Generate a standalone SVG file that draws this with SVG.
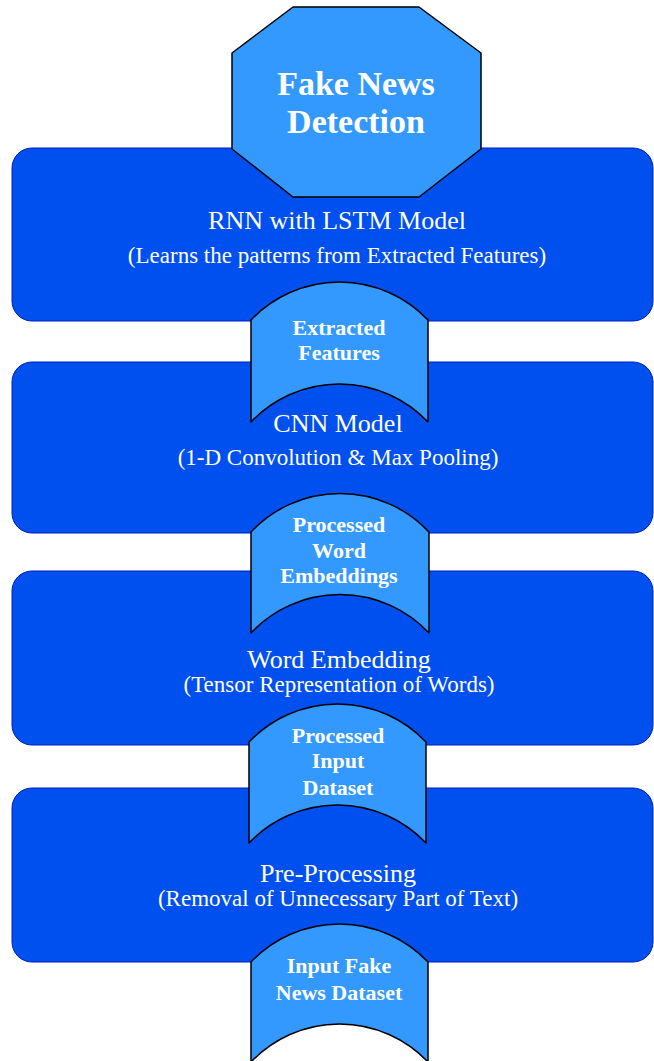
<svg xmlns="http://www.w3.org/2000/svg" width="654" height="1061" viewBox="0 0 654 1061">
  <style>
    .stage { fill: #0050EF; stroke: #001DBC; stroke-width: 1; }
    .flow { fill: #3399FF; stroke: #000000; stroke-width: 1.5; stroke-linejoin: round; }
    .title { font-family: "Liberation Serif", "Times New Roman", serif; font-size: 26px; fill: #FFFFFF; text-anchor: middle; }
    .sub { font-family: "Liberation Serif", "Times New Roman", serif; font-size: 23px; fill: #FFFFFF; text-anchor: middle; }
    .tag { font-family: "Liberation Serif", "Times New Roman", serif; font-size: 22px; font-weight: bold; fill: #FFFFFF; text-anchor: middle; }
    .head { font-family: "Liberation Serif", "Times New Roman", serif; font-size: 34px; font-weight: bold; fill: #FFFFFF; text-anchor: middle; }
  </style>
  <rect width="654" height="1061" fill="#FFFFFF"/>

  <!-- processing stages -->
  <g id="rnn-lstm">
    <rect class="stage" x="12" y="148" width="641" height="173" rx="20" ry="20"/>
  </g>
  <g id="cnn">
    <rect class="stage" x="12" y="362" width="641" height="171" rx="20" ry="20"/>
  </g>
  <g id="word-embedding">
    <rect class="stage" x="12" y="571" width="641" height="174" rx="20" ry="20"/>
  </g>
  <g id="pre-processing">
    <rect class="stage" x="12" y="788" width="641" height="174" rx="20" ry="20"/>
  </g>

  <!-- data passed between stages (tape shapes) -->
  <g id="extracted-features">
    <path class="flow" d="M251,320 A122,122 0 0 1 428,320 L428,422 A122,122 0 0 0 251,422 Z"/>
    <text class="tag" x="339" y="335">Extracted</text>
    <text class="tag" x="339" y="360">Features</text>
  </g>
  <g id="processed-word-embeddings">
    <path class="flow" d="M251,532 A122,122 0 0 1 429,532 L429,633 A122,122 0 0 0 251,633 Z"/>
    <text class="tag" x="339" y="532">Processed</text>
    <text class="tag" x="339" y="558">Word</text>
    <text class="tag" x="339" y="583">Embeddings</text>
  </g>
  <g id="processed-input-dataset">
    <path class="flow" d="M249,742 A122,122 0 0 1 426,742 L426,843 A122,122 0 0 0 249,843 Z"/>
    <text class="tag" x="338" y="743">Processed</text>
    <text class="tag" x="338" y="768">Input</text>
    <text class="tag" x="338" y="795">Dataset</text>
  </g>
  <g id="input-dataset">
    <path class="flow" d="M251,962 A122,122 0 0 1 428,962 L428,1062 A122,122 0 0 0 251,1062 Z"/>
    <text class="tag" x="339" y="973">Input Fake</text>
    <text class="tag" x="339" y="1000">News Dataset</text>
  </g>

  <!-- final output -->
  <g id="fake-news-detection">
    <polygon class="flow" points="293,7 419,7 481,53 481,149 419,197 293,197 232,149 232,53"/>
    <text class="head" x="356" y="95">Fake News</text>
    <text class="head" x="356" y="133">Detection</text>
  </g>

  <!-- stage labels -->
  <g id="stage-labels">
    <text class="title" x="337" y="229">RNN with LSTM Model</text>
    <text class="sub" x="337" y="263">(Learns the patterns from Extracted Features)</text>
    <text class="title" x="338" y="432">CNN Model</text>
    <text class="sub" x="338" y="465">(1-D Convolution &amp; Max Pooling)</text>
    <text class="title" x="339" y="668">Word Embedding</text>
    <text class="sub" x="339" y="692">(Tensor Representation of Words)</text>
    <text class="title" x="338" y="882">Pre-Processing</text>
    <text class="sub" x="338" y="906">(Removal of Unnecessary Part of Text)</text>
  </g>

  <g id="connectors"/>
</svg>
